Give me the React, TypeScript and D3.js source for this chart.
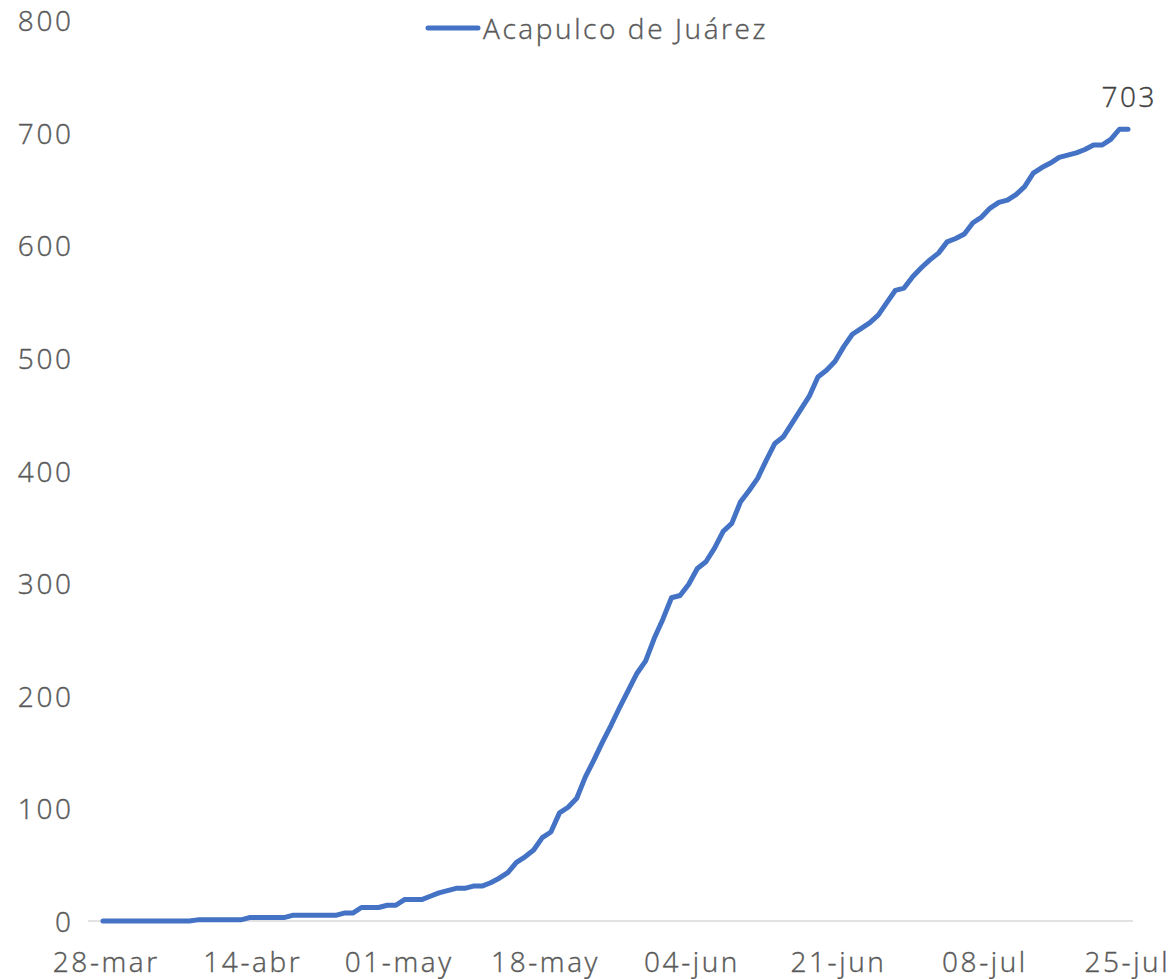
import React from "react";
import * as d3 from "d3";

const seriesName = "Acapulco de Juárez";
// daily cumulative values from 28-mar (day 0) to 25-jul (day 119)
const values: number[] = [
  0, 0, 0, 0, 0, 0, 0, 0, 0, 0,
  0, 1, 1, 1, 1, 1, 1, 3, 3, 3,
  3, 3, 5, 5, 5, 5, 5, 5, 7, 7,
  12, 12, 12, 14, 14, 19, 19, 19, 22, 25,
  27, 29, 29, 31, 31, 34, 38, 43, 52, 57,
  63, 74, 79, 96, 101, 109, 128, 143, 159, 174,
  190, 205, 220, 231, 251, 268, 287, 289, 299, 313,
  319, 331, 346, 353, 372, 382, 393, 409, 424, 430,
  442, 454, 466, 483, 489, 497, 510, 521, 526, 531,
  538, 549, 560, 562, 572, 580, 587, 593, 603, 606,
  610, 620, 625, 633, 638, 640, 645, 652, 664, 669,
  673, 678, 680, 682, 685, 689, 689, 694, 703, 703,
];
const xTickDays = [0, 17, 34, 51, 68, 85, 102, 119];
const xTickLabels = ["28-mar", "14-abr", "01-may", "18-may", "04-jun", "21-jun", "08-jul", "25-jul"];
const yTicks = [0, 100, 200, 300, 400, 500, 600, 700, 800];

const W = 1171;
const H = 979;
const FONT = "'Open Sans', sans-serif";
const LINE = "#4472C4";
const TEXT = "#595959";
const FS = 28;
const LS = 2.6;

export default function App() {
  const x = d3.scaleLinear().domain([0, 119]).range([103, 1128]);
  const y = d3.scaleLinear().domain([0, 800]).range([921, 20]);
  const line = d3
    .line<number>()
    .x((_, i) => x(i))
    .y((v) => y(v));
  const last = values.length - 1;
  return (
    <svg
      width={W}
      height={H}
      style={{ position: "absolute", left: 0, top: 0, background: "#fff" }}
      fontFamily={FONT}
      fontWeight={300}
    >
      <line x1={88} x2={1133} y1={y(0)} y2={y(0)} stroke="#D9D9D9" strokeWidth={1.5} />
      {yTicks.map((t) => (
        <text
          key={t}
          x={71 + LS}
          y={y(t)}
          textAnchor="end"
          dominantBaseline="central"
          fontSize={FS}
          fill={TEXT}
          stroke={TEXT}
          strokeWidth={0.4}
          letterSpacing={LS}
        >
          {t}
        </text>
      ))}
      {xTickDays.map((d, i) => (
        <text
          key={d}
          x={x(d) + 2 + LS / 2 - (i === xTickDays.length - 1 ? 4 : 0)}
          y={961}
          textAnchor="middle"
          dominantBaseline="central"
          fontSize={FS}
          fill={TEXT}
          stroke={TEXT}
          strokeWidth={0.4}
          letterSpacing={LS}
        >
          {xTickLabels[i]}
        </text>
      ))}
      <path
        d={line(values) || ""}
        fill="none"
        stroke={LINE}
        strokeWidth={5}
        strokeLinejoin="round"
        strokeLinecap="round"
      />
      <text
        x={x(last) + LS / 2}
        y={96}
        textAnchor="middle"
        dominantBaseline="central"
        fontSize={FS}
        fill="#404040"
        stroke="#404040"
        strokeWidth={0.4}
        letterSpacing={LS}
      >
        {values[last]}
      </text>
      <line x1={428} x2={478} y1={28} y2={28} stroke={LINE} strokeWidth={5} strokeLinecap="round" />
      <text
        x={483}
        y={28}
        dominantBaseline="central"
        fontSize={FS}
        fill={TEXT}
        stroke={TEXT}
        strokeWidth={0.4}
        letterSpacing={LS}
      >
        {seriesName}
      </text>
    </svg>
  );
}
